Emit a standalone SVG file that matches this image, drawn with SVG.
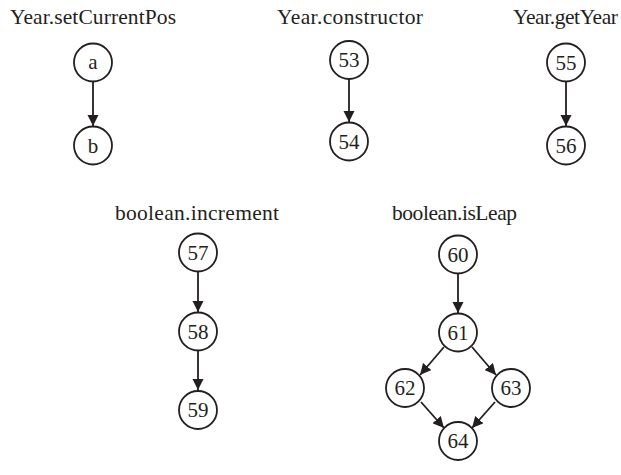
<svg xmlns="http://www.w3.org/2000/svg" width="621" height="475" viewBox="0 0 621 475">
<style>
.t{font-family:"Liberation Serif",serif;font-size:21.5px;fill:#231f20}
.n circle{fill:#fff;stroke:#231f20;stroke-width:1.8}
.n text{font-family:"Liberation Serif",serif;font-size:21px;fill:#231f20;text-anchor:middle}
.e line{stroke:#231f20;stroke-width:1.8;marker-end:url(#ah)}
</style>
<defs>
<marker id="ah" viewBox="0 0 10 10" refX="10" refY="5" markerWidth="6.2" markerHeight="6.2" markerUnits="strokeWidth" orient="auto">
<path d="M0,0L10,5L0,10z" fill="#231f20"/>
</marker>
</defs>
<g id="titles">
<text class="t" x="10" y="24" textLength="166" lengthAdjust="spacing">Year.setCurrentPos</text>
<text class="t" x="277" y="24" textLength="146" lengthAdjust="spacing">Year.constructor</text>
<text class="t" x="513" y="24" textLength="105" lengthAdjust="spacing">Year.getYear</text>
<text class="t" x="115" y="219.5" textLength="164" lengthAdjust="spacing">boolean.increment</text>
<text class="t" x="392" y="219.5" textLength="125" lengthAdjust="spacing">boolean.isLeap</text>
</g>
<g id="edges" class="e">
<line x1="93" y1="82" x2="93" y2="126"/>
<line x1="349" y1="79" x2="349" y2="122"/>
<line x1="566" y1="82" x2="566" y2="126"/>
<line x1="198" y1="271" x2="198" y2="312"/>
<line x1="198" y1="351" x2="198" y2="390"/>
<line x1="458" y1="273" x2="458" y2="313"/>
<line x1="444" y1="347" x2="420" y2="375"/>
<line x1="472" y1="347" x2="496" y2="375"/>
<line x1="421" y1="402" x2="444" y2="428"/>
<line x1="495" y1="402" x2="472" y2="428"/>
</g>
<g id="a" class="n"><circle cx="93" cy="62.5" r="19"/><text x="93" y="69">a</text></g>
<g id="b" class="n"><circle cx="93" cy="145.5" r="19"/><text x="93" y="152.5">b</text></g>
<g id="n53" class="n"><circle cx="349" cy="60" r="19"/><text x="349" y="67">53</text></g>
<g id="n54" class="n"><circle cx="349" cy="141.5" r="19"/><text x="349" y="148.5">54</text></g>
<g id="n55" class="n"><circle cx="566" cy="62.5" r="19"/><text x="566" y="69.5">55</text></g>
<g id="n56" class="n"><circle cx="566" cy="145.5" r="19"/><text x="566" y="152.5">56</text></g>
<g id="n57" class="n"><circle cx="198" cy="252.5" r="19"/><text x="198" y="259.5">57</text></g>
<g id="n58" class="n"><circle cx="198" cy="331.5" r="19"/><text x="198" y="338.5">58</text></g>
<g id="n59" class="n"><circle cx="198" cy="410" r="19"/><text x="198" y="417">59</text></g>
<g id="n60" class="n"><circle cx="458" cy="254.5" r="19"/><text x="458" y="261.5">60</text></g>
<g id="n61" class="n"><circle cx="458" cy="332.5" r="19"/><text x="458" y="339.5">61</text></g>
<g id="n62" class="n"><circle cx="405" cy="388" r="19"/><text x="405" y="395">62</text></g>
<g id="n63" class="n"><circle cx="511" cy="388" r="19"/><text x="511" y="395">63</text></g>
<g id="n64" class="n"><circle cx="458" cy="441" r="19"/><text x="458" y="448">64</text></g>
</svg>
